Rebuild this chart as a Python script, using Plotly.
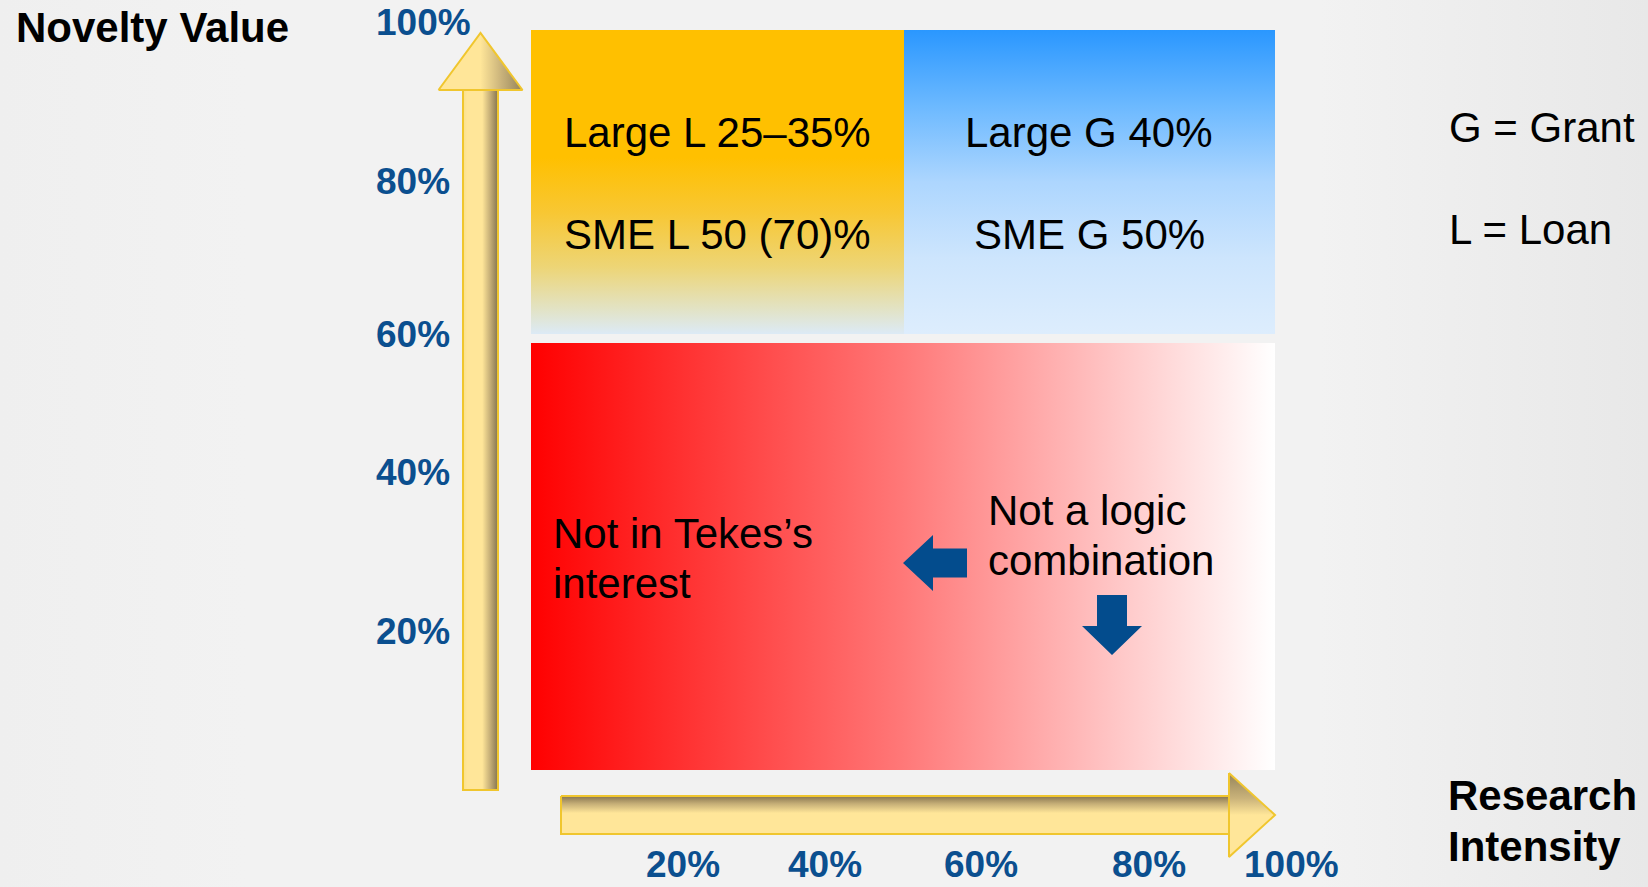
import plotly.graph_objects as go

W, H = 1648, 887

# ---------------- data (text content of the matrix) ----------------
y_axis_title = "Novelty Value"
x_axis_title = ["Research", "Intensity"]
y_tick_labels = ["100%", "80%", "60%", "40%", "20%"]
x_tick_labels = ["20%", "40%", "60%", "80%", "100%"]
loan_cell = ["Large L 25–35%", "SME L 50 (70)%"]
grant_cell = ["Large G 40%", "SME G 50%"]
low_left_text = ["Not in Tekes’s", "interest"]
low_right_text = ["Not a logic", "combination"]
legend_text = ["G = Grant", "L = Loan"]

# ---------------- layout (pixel geometry of the slide) ----------------
y_tick_y = [21, 181, 334, 472, 631]
y_tick_left = 374
x_tick_x = [683, 825, 981, 1149, 1291]

ORANGE = dict(x0=531, x1=904, y0=30, y1=334)
BLUE = dict(x0=904, x1=1275, y0=30, y1=334)
RED = dict(x0=531, x1=1275, y0=343, y1=770)

TICK_FONT = dict(family="Liberation Sans, Arial, sans-serif", size=37, color="#0B4F8F")
BODY_FONT = dict(family="Liberation Sans, Arial, sans-serif", size=42, color="#000000")
BOLD_FONT = dict(family="Liberation Sans, Arial, sans-serif", size=42, color="#000000")

fig = go.Figure()


def rect_trace(b, gradient):
    xs = [b["x0"], b["x1"], b["x1"], b["x0"], b["x0"]]
    ys = [b["y0"], b["y0"], b["y1"], b["y1"], b["y0"]]
    return go.Scatter(x=xs, y=ys, mode="lines", fill="toself", line=dict(width=0),
                      fillgradient=gradient, hoverinfo="skip", showlegend=False)


def poly_trace(xs, ys, fillcolor=None, gradient=None, line=None):
    xs = list(xs) + [xs[0]]
    ys = list(ys) + [ys[0]]
    kw = dict(x=xs, y=ys, mode="lines", fill="toself",
              line=line or dict(width=0), hoverinfo="skip", showlegend=False)
    if gradient is not None:
        kw["fillgradient"] = gradient
    else:
        kw["fillcolor"] = fillcolor
    return go.Scatter(**kw)


# subtle slide background shading
fig.add_trace(rect_trace(dict(x0=0, x1=W, y0=0, y1=H), dict(
    type="horizontal", start=0, stop=W,
    colorscale=[[0, "#EFEFEF"], [0.15, "#F2F2F2"], [0.8, "#F2F2F2"], [1, "#E8E8E8"]])))

# quadrant boxes
fig.add_trace(rect_trace(ORANGE, dict(
    type="vertical", start=ORANGE["y0"], stop=ORANGE["y1"],
    colorscale=[[0, "#FFC000"], [0.42, "#FFC000"], [0.6, "#F8C733"],
                [0.78, "#EDD576"], [0.92, "#E2E3C6"], [1, "#DCEAF6"]])))
fig.add_trace(rect_trace(BLUE, dict(
    type="vertical", start=BLUE["y0"], stop=BLUE["y1"],
    colorscale=[[0, "#2A97FF"], [0.25, "#6CB9FF"], [0.5, "#ADD6FE"],
                [0.75, "#CDE5FD"], [1, "#DDEDFD"]])))
fig.add_trace(rect_trace(RED, dict(
    type="horizontal", start=RED["x0"], stop=RED["x1"],
    colorscale=[[0, "#FF0000"], [0.5, "#FF7878"], [0.8, "#FFCACA"], [1, "#FFFFFF"]])))

# ---- yellow axis arrows ----
GOLD_LINE = dict(width=2, color="#F0C62E")
# vertical arrow
vcx, v_tip, v_head, v_bot, v_shw, v_hhw = 480.5, 33, 90, 790, 17.5, 42
fig.add_trace(poly_trace(
    [vcx - v_shw, vcx + v_shw, vcx + v_shw, vcx - v_shw],
    [v_head, v_head, v_bot, v_bot],
    gradient=dict(type="horizontal", start=vcx - v_shw, stop=vcx + v_shw,
                  colorscale=[[0, "#FBE08A"], [0.12, "#FFE699"], [0.55, "#FFE699"],
                              [0.78, "#C4AD76"], [1, "#85744F"]]),
    line=GOLD_LINE))
fig.add_trace(poly_trace(
    [vcx - v_hhw, vcx, vcx + v_hhw],
    [v_head, v_tip, v_head],
    gradient=dict(type="horizontal", start=vcx - v_hhw, stop=vcx + v_hhw,
                  colorscale=[[0, "#FFE699"], [0.5, "#FFE699"], [0.75, "#C9B27A"], [1, "#95845A"]]),
    line=GOLD_LINE))
# horizontal arrow
hcy, h_left, h_head, h_tip, h_shw, h_hhw = 815, 561, 1229, 1275, 19, 42
fig.add_trace(poly_trace(
    [h_left, h_head, h_head, h_left],
    [hcy - h_shw, hcy - h_shw, hcy + h_shw, hcy + h_shw],
    gradient=dict(type="vertical", start=hcy - h_shw, stop=hcy + h_shw,
                  colorscale=[[0, "#85744F"], [0.2, "#C4AD76"], [0.45, "#FFE699"], [1, "#FFE699"]]),
    line=GOLD_LINE))
fig.add_trace(poly_trace(
    [h_head, h_tip, h_head],
    [hcy - h_hhw, hcy, hcy + h_hhw],
    gradient=dict(type="vertical", start=hcy - h_hhw, stop=hcy + h_hhw,
                  colorscale=[[0, "#95845A"], [0.3, "#C9B27A"], [0.5, "#FFE699"], [1, "#FFE699"]]),
    line=GOLD_LINE))

# ---- navy block arrows ----
NAVY = "#034C8D"
# left-pointing
la_tip_x, la_cy, la_head_x, la_end_x, la_shw, la_hhw = 903, 563, 933, 967, 14.5, 28
fig.add_trace(poly_trace(
    [la_tip_x, la_head_x, la_head_x, la_end_x, la_end_x, la_head_x, la_head_x],
    [la_cy, la_cy - la_hhw, la_cy - la_shw, la_cy - la_shw, la_cy + la_shw, la_cy + la_shw, la_cy + la_hhw],
    fillcolor=NAVY))
# down-pointing
da_cx, da_top, da_head_y, da_tip_y, da_shw, da_hhw = 1112, 595, 626, 655, 15, 30
fig.add_trace(poly_trace(
    [da_cx - da_shw, da_cx + da_shw, da_cx + da_shw, da_cx + da_hhw, da_cx, da_cx - da_hhw, da_cx - da_shw],
    [da_top, da_top, da_head_y, da_head_y, da_tip_y, da_head_y, da_head_y],
    fillcolor=NAVY))

# ---------------- text ----------------
ann = []


def add_text(text, x, y, font, xanchor="center", yanchor="middle"):
    ann.append(dict(text=text, x=x, y=y, xref="x", yref="y", showarrow=False,
                    xanchor=xanchor, yanchor=yanchor, font=font))


add_text("<b>%s</b>" % y_axis_title, 14, 27, BOLD_FONT, xanchor="left")
for i, line in enumerate(x_axis_title):
    add_text("<b>%s</b>" % line, 1446, 795 + 51 * i, BOLD_FONT, xanchor="left")

for lab, yy in zip(y_tick_labels, y_tick_y):
    if yy < 30:
        add_text("<b>%s</b>" % lab, y_tick_left, 0, TICK_FONT, xanchor="left", yanchor="top")
    else:
        add_text("<b>%s</b>" % lab, y_tick_left, yy, TICK_FONT, xanchor="left")
for lab, xx in zip(x_tick_labels, x_tick_x):
    add_text("<b>%s</b>" % lab, xx, H, TICK_FONT, yanchor="bottom")

for i, line in enumerate(loan_cell):
    add_text(line, 717, 132 + 102 * i, BODY_FONT)
for i, line in enumerate(grant_cell):
    add_text(line, 1089, 132 + 102 * i, BODY_FONT)
for i, line in enumerate(low_left_text):
    add_text(line, 551, 533 + 50 * i, BODY_FONT, xanchor="left")
for i, line in enumerate(low_right_text):
    add_text(line, 986, 510 + 50 * i, BODY_FONT, xanchor="left")
for i, line in enumerate(legend_text):
    add_text(line, 1447, 127 + 102 * i, BODY_FONT, xanchor="left")

fig.update_layout(
    width=W, height=H, autosize=False,
    margin=dict(l=0, r=0, t=0, b=0, pad=0),
    paper_bgcolor="#F2F2F2", plot_bgcolor="#F2F2F2",
    xaxis=dict(range=[0, W], visible=False, fixedrange=True),
    yaxis=dict(range=[H, 0], visible=False, fixedrange=True),
    showlegend=False,
    annotations=ann,
)

fig.write_html("out.html", config={"displayModeBar": False, "staticPlot": True},
               post_script="document.body.style.margin='0';document.body.style.overflow='hidden';")
